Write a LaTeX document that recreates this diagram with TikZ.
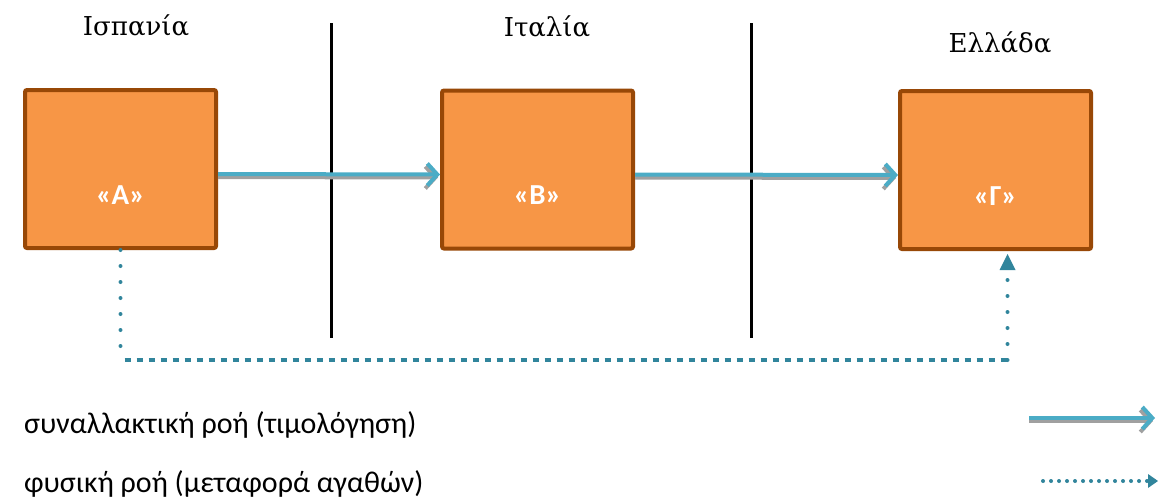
\documentclass[tikz,border=0pt]{standalone}
\usepackage{fontspec}
\setmainfont{DejaVu Serif}
\newfontfamily\calibri{Carlito}
\usetikzlibrary{arrows.meta}
\definecolor{boxfill}{HTML}{F79646}
\definecolor{boxline}{HTML}{984807}
\definecolor{flowblue}{HTML}{4BACC6}
\definecolor{flowgray}{HTML}{A0A0A0}
\definecolor{dotblue}{HTML}{31859C}
\begin{document}
\begin{tikzpicture}[
    x=1pt, y=-1pt,
    % Styles
    company/.style={draw=boxline, fill=boxfill, line width=4pt, rounded corners=2pt, minimum width=191pt, minimum height=158pt, inner sep=0pt},
    country/.style={font=\fontsize{26}{30}\selectfont},
    legend/.style={font=\calibri\fontsize{30}{34}\selectfont, anchor=west, inner sep=0pt},
    border/.style={line width=3pt, black},
    invoice/.style={-{Straight Barb[length=10pt, width=22pt, line width=4pt]}, line width=4pt, flowblue},
    invoice-shadow/.style={-{Straight Barb[length=10pt, width=22pt, line width=4pt]}, line width=4pt, flowgray},
    goods-dot/.style={line width=4pt, dotblue, line cap=round, dash pattern=on 0pt off 16pt},
    goods-dash/.style={line width=4pt, dotblue, dash pattern=on 6pt off 6pt},
]
\useasboundingbox (0,0) rectangle (1158,499);

% Companies
\node[company, label={[font=\calibri\bfseries\fontsize{29}{33}\selectfont, text=white, yshift=-26pt]center:«Α»}] (A) at (120.5,169) {};
\node[company, label={[font=\calibri\bfseries\fontsize{29}{33}\selectfont, text=white, yshift=-26pt]center:«Β»}] (B) at (537.5,169.5) {};
\node[company, label={[font=\calibri\bfseries\fontsize{29}{33}\selectfont, text=white, yshift=-26pt]center:«Γ»}] (G) at (995.5,170) {};

% Countries
\node[country] (spain) at (136,26) {Ισπανία};
\node[country] (italy) at (547,27) {Ιταλία};
\node[country] (greece) at (1000,43) {Ελλάδα};

% Borders
\draw[border] (331,23) -- (331,338);
\draw[border] (751,23) -- (751,338);

% Invoicing flow
\draw[invoice-shadow] ([yshift=-8pt]A.east) -- ([xshift=-2pt, yshift=-8pt]B.west);
\draw[invoice] ([yshift=-5pt]A.east) -- ([yshift=-5pt]B.west);
\draw[invoice-shadow] ([yshift=-8pt]B.east) -- ([xshift=-2pt, yshift=-8pt]G.west);
\draw[invoice] ([yshift=-5pt]B.east) -- ([yshift=-5pt]G.west);

% Physical flow
\coordinate (c1) at (A.south |- 0,360);
\coordinate (gin) at ([xshift=12pt, yshift=-3pt]G.south);
\coordinate (c2) at (gin |- c1);
\draw[goods-dot] (A.south) -- ([yshift=8pt]c1);
\draw[goods-dash] ([xshift=4pt]c1) -- (c2);
\draw[goods-dot] (c2) -- ([yshift=-18pt]gin);
\fill[dotblue] (gin) -- ++(-8,16) -- ++(16,0) -- cycle;

% Legend
\node[legend] (leg1) at (24,425) {συναλλακτική ροή (τιμολόγηση)};
\node[legend] (leg2) at (24,484) {φυσική ροή (μεταφορά αγαθών)};
\coordinate (l1a) at (1029,418);
\coordinate (l1b) at (1155,418);
\draw[invoice-shadow] ([yshift=-3pt]l1a) -- ([xshift=-2pt, yshift=-3pt]l1b);
\draw[invoice] (l1a) -- (l1b);
\coordinate (l2a) at (1043,481);
\coordinate (l2b) at (1158,481);
\draw[goods-dot, dash pattern=on 0pt off 8pt] (l2a) -- ([xshift=-10pt]l2b);
\fill[dotblue] (l2b) -- ++(-10,-7) -- ++(0,14) -- cycle;

\end{tikzpicture}
\end{document}
